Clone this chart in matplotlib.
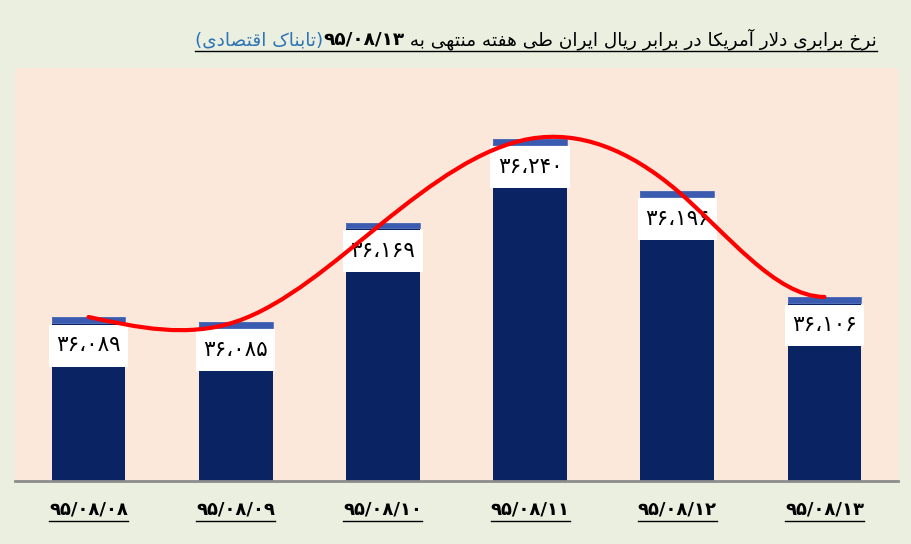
import numpy as np
import matplotlib
matplotlib.use("Agg")
import matplotlib.pyplot as plt
from matplotlib.path import Path
from matplotlib.patches import PathPatch, Rectangle
from matplotlib.lines import Line2D

# data (rial per US dollar)
dates = ["۹۵/۰۸/۰۸", "۹۵/۰۸/۰۹", "۹۵/۰۸/۱۰", "۹۵/۰۸/۱۱", "۹۵/۰۸/۱۲", "۹۵/۰۸/۱۳"]
rates = [36089, 36085, 36169, 36240, 36196, 36106]
title_words = ["نرخ", "برابری", "دلار", "آمریکا", "در", "برابر", "ریال", "ایران",
               "طی", "هفته", "منتهی", "به"]
title_date = "۹۵/۰۸/۱۳"
source_words = ["تابناک", "اقتصادی"]

# arabic presentation forms: isolated, final, initial, medial
FORMS = {
    "ا": (0xFE8D, 0xFE8E, None, None),
    "آ": (0xFE81, 0xFE82, None, None),
    "ب": (0xFE8F, 0xFE90, 0xFE91, 0xFE92),
    "ت": (0xFE95, 0xFE96, 0xFE97, 0xFE98),
    "خ": (0xFEA5, 0xFEA6, 0xFEA7, 0xFEA8),
    "د": (0xFEA9, 0xFEAA, None, None),
    "ر": (0xFEAD, 0xFEAE, None, None),
    "ص": (0xFEB9, 0xFEBA, 0xFEBB, 0xFEBC),
    "ط": (0xFEC1, 0xFEC2, 0xFEC3, 0xFEC4),
    "ف": (0xFED1, 0xFED2, 0xFED3, 0xFED4),
    "ق": (0xFED5, 0xFED6, 0xFED7, 0xFED8),
    "ک": (0xFB8E, 0xFB8F, 0xFB90, 0xFB91),
    "ل": (0xFEDD, 0xFEDE, 0xFEDF, 0xFEE0),
    "م": (0xFEE1, 0xFEE2, 0xFEE3, 0xFEE4),
    "ن": (0xFEE5, 0xFEE6, 0xFEE7, 0xFEE8),
    "ه": (0xFEE9, 0xFEEA, 0xFEEB, 0xFEEC),
    "ی": (0xFEEF, 0xFEF0, 0xFEF3, 0xFEF4),
}


def shape(word):
    # join letters and return them in visual (left to right) order
    res = []
    prev = False
    i = 0
    while i < len(word):
        c = word[i]
        if c == "ل" and i + 1 < len(word) and word[i + 1] in "اآ":
            iso, fin = (0xFEFB, 0xFEFC) if word[i + 1] == "ا" else (0xFEF5, 0xFEF6)
            res.append(chr(fin if prev else iso))
            prev = False
            i += 2
            continue
        f = FORMS[c]
        nxt = word[i + 1] if i + 1 < len(word) else None
        ok = f[2] is not None and nxt in FORMS
        if prev and ok:
            g = f[3]
        elif prev:
            g = f[1]
        elif ok:
            g = f[2]
        else:
            g = f[0]
        res.append(chr(g))
        prev = ok
        i += 1
    return "".join(reversed(res))


def fa_num(v):
    s = "{:,}".format(v).replace(",", "،")
    return s.translate(str.maketrans("0123456789", "۰۱۲۳۴۵۶۷۸۹"))


W, H = 911, 544
fig = plt.figure(figsize=(W / 100, H / 100), dpi=100)
fig.patch.set_facecolor("#EBEFDF")
ax = fig.add_axes([15 / W, 1 - 481 / H, 883 / W, 413 / H])
ax.set_facecolor("#FCE8DA")

x = np.arange(len(rates))
ymin, ymax = 35950, 36300
ax.set_xlim(-0.5, len(rates) - 0.5)
ax.set_ylim(ymin, ymax)

ax.bar(x, np.array(rates) - ymin, bottom=ymin, width=0.5, color="#0A2363", zorder=2)
ax.bar(x, 5, bottom=np.array(rates) - 5, width=0.5, color="#3A5BB0",
       edgecolor="#5A78C0", linewidth=0.6, zorder=3)

# value boxes
for xi, v in zip(x, rates):
    ax.add_patch(Rectangle((xi - 0.27, v - 42), 0.54, 35.5, facecolor="white",
                           edgecolor="none", zorder=4))
    ax.text(xi, v - 24, fa_num(v), ha="center", va="center", fontsize=15.5,
            color="black", zorder=5)

# smooth red line through the bar tops: spline tangents, drawn as bezier
# (free start, flat at the last point like the original)
px = x.astype(float)
py = np.array(rates, dtype=float)
n = len(py)
A = np.zeros((n, n))
rhs = np.zeros(n)
A[0, :2] = [2, 1]
rhs[0] = 3 * (py[1] - py[0])
A[-1, -1] = 1
rhs[-1] = 0
for i in range(1, n - 1):
    A[i, i - 1:i + 2] = [1, 4, 1]
    rhs[i] = 3 * (py[i + 1] - py[i - 1])
m = np.linalg.solve(A, rhs)
verts = [(px[0], py[0])]
codes = [Path.MOVETO]
for i in range(n - 1):
    verts += [(px[i] + 1 / 3, py[i] + m[i] / 3),
              (px[i + 1] - 1 / 3, py[i + 1] - m[i + 1] / 3),
              (px[i + 1], py[i + 1])]
    codes += [Path.CURVE4] * 3
ax.add_patch(PathPatch(Path(verts, codes), facecolor="none", edgecolor="#FF0000",
                       linewidth=3, zorder=6, capstyle="round"))

for s in ["top", "left", "right"]:
    ax.spines[s].set_visible(False)
ax.spines["bottom"].set_color("#8C8C8C")
ax.spines["bottom"].set_linewidth(2)
ax.set_yticks([])
ax.set_xticks(x)
ax.set_xticklabels(dates, fontsize=13, fontweight="bold")
ax.tick_params(axis="x", length=0, pad=14)

# title: black text on the right, bold date, blue source on the left
rest = " " + " ".join(shape(w) for w in reversed(title_words))
src = "(" + " ".join(shape(w) for w in reversed(source_words)) + ")"
ty = 1 - 45 / H
fig.canvas.draw()
r = fig.canvas.get_renderer()
xr = 877
t1 = fig.text(xr / W, ty, rest, ha="right", va="baseline", fontsize=13.3, color="black")
x1 = t1.get_window_extent(r).x0
t2 = fig.text(x1 / W, ty, title_date, ha="right", va="baseline", fontsize=13.3,
              fontweight="semibold", color="black")
x2 = t2.get_window_extent(r).x0
t3 = fig.text(x2 / W, ty, src, ha="right", va="baseline", fontsize=13.3, color="#2E75B6")
x3 = t3.get_window_extent(r).x0
uy = 1 - 51 / H
fig.add_artist(Line2D([x3 / W, xr / W], [uy, uy], color="black", linewidth=1))

# underline under each date label
for lab in ax.get_xticklabels():
    bb = lab.get_window_extent(r)
    fig.add_artist(Line2D([bb.x0 / W, bb.x1 / W], [(bb.y0 - 3) / H] * 2,
                          color="black", linewidth=1))

fig.savefig("out.png", dpi=100, facecolor=fig.get_facecolor())
